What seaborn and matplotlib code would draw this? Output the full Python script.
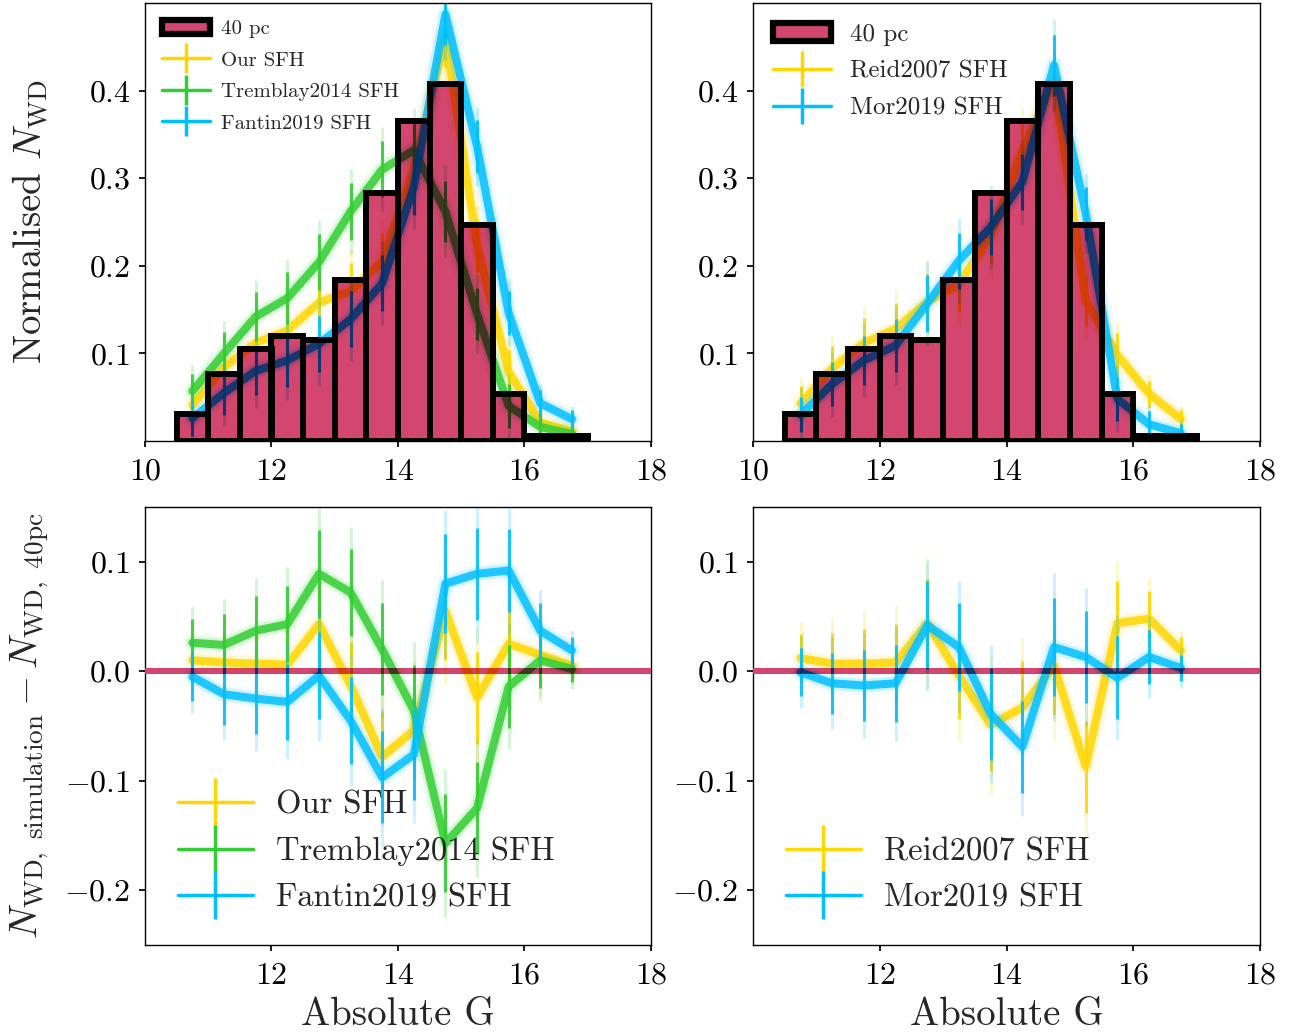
import numpy as np
import matplotlib
matplotlib.use('Agg')
import matplotlib.pyplot as plt
import seaborn as sns
from matplotlib.colors import to_rgb
from matplotlib.path import Path
from matplotlib.patches import PathPatch, Patch
from matplotlib.lines import Line2D

# DATA
g_edges = [10.5, 11.0, 11.5, 12.0, 12.5, 13.0, 13.5, 14.0, 14.5, 15.0, 15.5, 16.0, 16.5, 17.0]
g_mid = [10.75, 11.25, 11.75, 12.25, 12.75, 13.25, 13.75, 14.25, 14.75, 15.25, 15.75, 16.25, 16.75]

obs_40pc = [0.031, 0.076, 0.105, 0.120, 0.115, 0.184, 0.283, 0.365, 0.407, 0.247, 0.054, 0.006, 0.006]

# normalised simulated counts (top row)
sim_our = [0.041, 0.084, 0.112, 0.126, 0.158, 0.171, 0.205, 0.311, 0.462, 0.223, 0.079, 0.021, 0.011]
sim_tremblay = [0.057, 0.100, 0.142, 0.163, 0.204, 0.262, 0.310, 0.332, 0.262, 0.145, 0.040, 0.016, 0.008]
sim_fantin = [0.026, 0.055, 0.080, 0.092, 0.111, 0.139, 0.180, 0.290, 0.487, 0.336, 0.146, 0.043, 0.025]
sim_reid = [0.043, 0.083, 0.112, 0.128, 0.159, 0.179, 0.234, 0.332, 0.412, 0.160, 0.098, 0.054, 0.025]
sim_mor = [0.030, 0.065, 0.092, 0.109, 0.157, 0.206, 0.244, 0.296, 0.429, 0.260, 0.048, 0.019, 0.009]

# simulation - 40pc (bottom row)
res_our = [0.010, 0.008, 0.007, 0.006, 0.043, -0.013, -0.078, -0.054, 0.055, -0.024, 0.025, 0.015, 0.005]
res_tremblay = [0.026, 0.024, 0.037, 0.043, 0.089, 0.072, 0.020, -0.036, -0.157, -0.125, -0.014, 0.010, 0.002]
res_fantin = [-0.005, -0.021, -0.025, -0.028, -0.004, -0.045, -0.097, -0.076, 0.080, 0.089, 0.092, 0.037, 0.019]
res_reid = [0.012, 0.007, 0.007, 0.008, 0.044, -0.004, -0.049, -0.033, 0.005, -0.087, 0.044, 0.048, 0.019]
res_mor = [-0.001, -0.011, -0.013, -0.011, 0.042, 0.022, -0.039, -0.069, 0.022, 0.013, -0.006, 0.013, 0.003]

err_top = [0.020, 0.025, 0.028, 0.030, 0.032, 0.032, 0.032, 0.032, 0.035, 0.030, 0.025, 0.015, 0.010]
err_bot = [0.022, 0.028, 0.032, 0.035, 0.040, 0.040, 0.042, 0.042, 0.045, 0.042, 0.038, 0.025, 0.012]

# STYLE
CRIMSON = '#D3466F'
C_YEL, C_GRN, C_BLU = 'gold', 'limegreen', 'deepskyblue'

sns.set_theme(style='ticks')
plt.rcParams.update({
    'font.family': 'serif',
    'font.serif': ['cmr10', 'DejaVu Serif'],
    'mathtext.fontset': 'cm',
    'axes.formatter.use_mathtext': True,
    'axes.unicode_minus': True,
    'axes.edgecolor': 'black',
    'axes.linewidth': 1.0,
    'xtick.color': 'black', 'ytick.color': 'black',
    'xtick.major.size': 4, 'ytick.major.size': 4,
    'xtick.major.pad': 8.5, 'ytick.major.pad': 6.5,
    'xtick.labelsize': 23, 'ytick.labelsize': 23,
    'axes.labelsize': 28,
})


def multiply(c):
    # colour of a line seen through the crimson (multiply blend)
    return tuple(np.array(to_rgb(c)) * np.array(to_rgb(CRIMSON)))


def draw_band(ax, x, y, err, color, clip=None, z=2):
    arts = []
    for lw, a in [(14, 0.05), (9.5, 0.15)]:
        ln, = ax.plot(x, y, color=color, lw=lw, alpha=a, zorder=z)
        arts.append(ln)
    n_before = len(ax.lines)
    sns.lineplot(x=x, y=y, ax=ax, color=color, lw=5.8, alpha=0.85, zorder=z)
    arts += ax.lines[n_before:]
    err = np.array(err)
    for scale, a in [(1.5, 0.2), (1.0, 0.9)]:
        eb = ax.errorbar(x, y, yerr=err * scale, fmt='none', ecolor=color,
                         elinewidth=2.2, alpha=a, zorder=z)
        arts += list(eb.lines[2])
    if clip is not None:
        for art in arts:
            art.set_clip_path(clip)


def bars_clip(ax):
    paths = [p.get_path().transformed(p.get_patch_transform()) for p in ax.patches]
    return PathPatch(Path.make_compound_path(*paths), transform=ax.transData)


fig = plt.figure(figsize=(12.97, 10.36), dpi=100)
W, H = 1297, 1036
def box(x0, x1, y0, y1):
    return [x0 / W, 1 - y1 / H, (x1 - x0) / W, (y1 - y0) / H]

ax_tl = fig.add_axes(box(145, 651, 3, 441))
ax_tr = fig.add_axes(box(753, 1260, 3, 441))
ax_bl = fig.add_axes(box(145, 651, 507, 945))
ax_br = fig.add_axes(box(753, 1260, 507, 945))

left_series = [('Our SFH', C_YEL, sim_our, res_our),
               ('Tremblay2014 SFH', C_GRN, sim_tremblay, res_tremblay),
               ('Fantin2019 SFH', C_BLU, sim_fantin, res_fantin)]
right_series = [('Reid2007 SFH', C_YEL, sim_reid, res_reid),
                ('Mor2019 SFH', C_BLU, sim_mor, res_mor)]

for ax_top, ax_bot, series, leg_top, leg_bot, ls_top, pad_top in [
        (ax_tl, ax_bl, left_series, 15, 23.5, 0.62, 0.55),
        (ax_tr, ax_br, right_series, 18, 23.5, 0.58, 0.8)]:

    # top: histogram of the 40 pc sample + simulated curves
    for name, c, sim, res in series:
        draw_band(ax_top, g_mid, sim, err_top, c, z=2)
    sns.histplot(x=g_mid, weights=obs_40pc, bins=g_edges, stat='count', ax=ax_top,
                 color=CRIMSON, alpha=1, edgecolor='none', linewidth=0, zorder=3)
    clip = bars_clip(ax_top)
    for name, c, sim, res in series:
        draw_band(ax_top, g_mid, sim, err_top, multiply(c), clip=clip, z=4)
    sns.histplot(x=g_mid, weights=obs_40pc, bins=g_edges, stat='count', ax=ax_top,
                 fill=False, color='black', linewidth=4.3, zorder=5)

    ax_top.set_xlim(10, 18)
    ax_top.set_ylim(0, 0.5)
    ax_top.set_xticks([10, 12, 14, 16, 18])
    ax_top.set_yticks([0.1, 0.2, 0.3, 0.4])
    ax_top.set_xlabel('')
    ax_top.set_ylabel('')

    handles = [Patch(facecolor=CRIMSON, edgecolor='black', linewidth=4.5, label='40 pc')]
    handles += [Line2D([0], [0], color=c, lw=2.5, marker='|', markersize=leg_top * 1.45,
                       markeredgewidth=2.5, label=name) for name, c, _, _ in series]
    ax_top.legend(handles=handles, loc='upper left', fontsize=leg_top, frameon=False,
                  handlelength=2.3, labelspacing=ls_top, borderaxespad=0.4,
                  handletextpad=pad_top)

    # bottom: residuals
    for name, c, sim, res in series:
        draw_band(ax_bot, g_mid, res, err_bot, c, z=2)
    span = ax_bot.axhspan(-0.0028, 0.0028, color=CRIMSON, lw=0, zorder=3)
    for name, c, sim, res in series:
        draw_band(ax_bot, g_mid, res, err_bot, multiply(c), clip=span, z=4)

    ax_bot.set_xlim(10, 18)
    ax_bot.set_ylim(-0.25, 0.15)
    ax_bot.set_xticks([12, 14, 16, 18])
    ax_bot.set_yticks([-0.2, -0.1, 0.0, 0.1])
    ax_bot.set_xlabel('Absolute G', labelpad=5)
    ax_bot.set_ylabel('')

    handles = [Line2D([0], [0], color=c, lw=2.5, marker='|', markersize=leg_bot * 1.5,
                      markeredgewidth=2.5, label=name) for name, c, _, _ in series]
    ax_bot.legend(handles=handles, loc='lower left', fontsize=leg_bot, frameon=False,
                  handlelength=2.3, labelspacing=0.52, borderaxespad=0.6, handletextpad=0.7)

ax_tl.set_ylabel(r'Normalised $N_{\rm WD}$')
ax_bl.set_ylabel(r'$N_{\rm WD,\ simulation} - N_{\rm WD,\ 40pc}$')
for ax in (ax_tl, ax_bl):
    ax.yaxis.set_label_coords(-0.186, 0.5)

fig.savefig('out.png', dpi=100)
